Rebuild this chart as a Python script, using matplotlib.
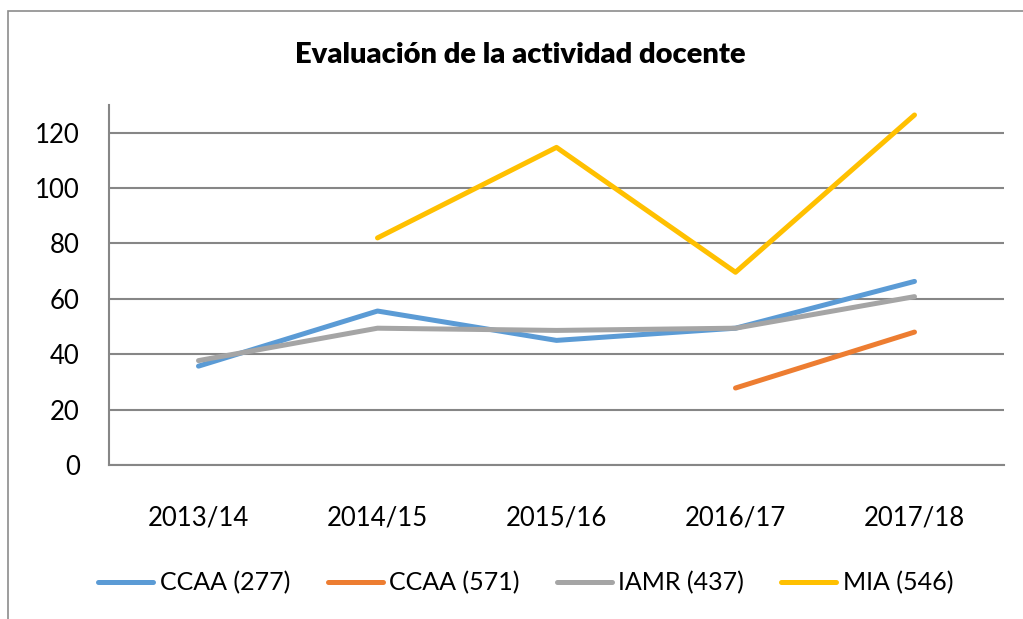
import numpy as np
import matplotlib.pyplot as plt
from matplotlib.patches import Rectangle

years = ["2013/14", "2014/15", "2015/16", "2016/17", "2017/18"]
ccaa_277 = [35.7, 55.6, 45.0, 49.4, 66.3]
ccaa_571 = [np.nan, np.nan, np.nan, 27.8, 48.0]
iamr_437 = [37.7, 49.4, 48.6, 49.4, 60.8]
mia_546 = [np.nan, 82.0, 114.7, 69.6, 126.4]

series = [
    ("CCAA (277)", ccaa_277, "#5B9BD5"),
    ("CCAA (571)", ccaa_571, "#ED7D31"),
    ("IAMR (437)", iamr_437, "#A5A5A5"),
    ("MIA (546)", mia_546, "#FFC000"),
]

plt.rcParams["font.family"] = ["Lato", "DejaVu Sans"]

fig = plt.figure(figsize=(10.23, 6.19), dpi=100)
ax = fig.add_axes([109 / 1023, 1 - 465 / 619, 895 / 1023, 360 / 619])

x = np.arange(len(years))
for name, vals, col in series:
    ax.plot(x, vals, color=col, lw=3.6, solid_capstyle="round", label=name, zorder=3)

ax.set_xlim(-0.5, 4.5)
ax.set_ylim(0, 130)
ax.set_yticks(range(0, 121, 20))
ax.set_xticks(x)
ax.set_xticklabels(years)
ax.tick_params(axis="both", length=0, labelsize=18.5, colors="black")
ax.tick_params(axis="y", pad=21)
ax.tick_params(axis="x", pad=29)
ax.yaxis.grid(True, color="#868686", lw=1.5, zorder=1)
for s in ["top", "right"]:
    ax.spines[s].set_visible(False)
ax.spines["left"].set_color("#868686")
ax.spines["left"].set_linewidth(1.5)
ax.spines["bottom"].set_color("#868686")
ax.spines["bottom"].set_linewidth(1.5)

fig.text(0.509, 1 - 55 / 619, "Evaluación de la actividad docente",
         ha="center", va="center", fontsize=21, fontweight="heavy")

fig.legend(loc="center", bbox_to_anchor=(0.514, 1 - 583 / 619), ncol=4,
           frameon=False, fontsize=18, handlelength=2.2, handletextpad=0.25,
           columnspacing=1.5)

# outer chart border
fig.patches.append(Rectangle((8 / 1023, -0.05), 1.1, 1 - 11 / 619 + 0.05,
                             transform=fig.transFigure, fill=False,
                             edgecolor="#8C8C8C", lw=1.2))

fig.savefig("out.png", dpi=100)
